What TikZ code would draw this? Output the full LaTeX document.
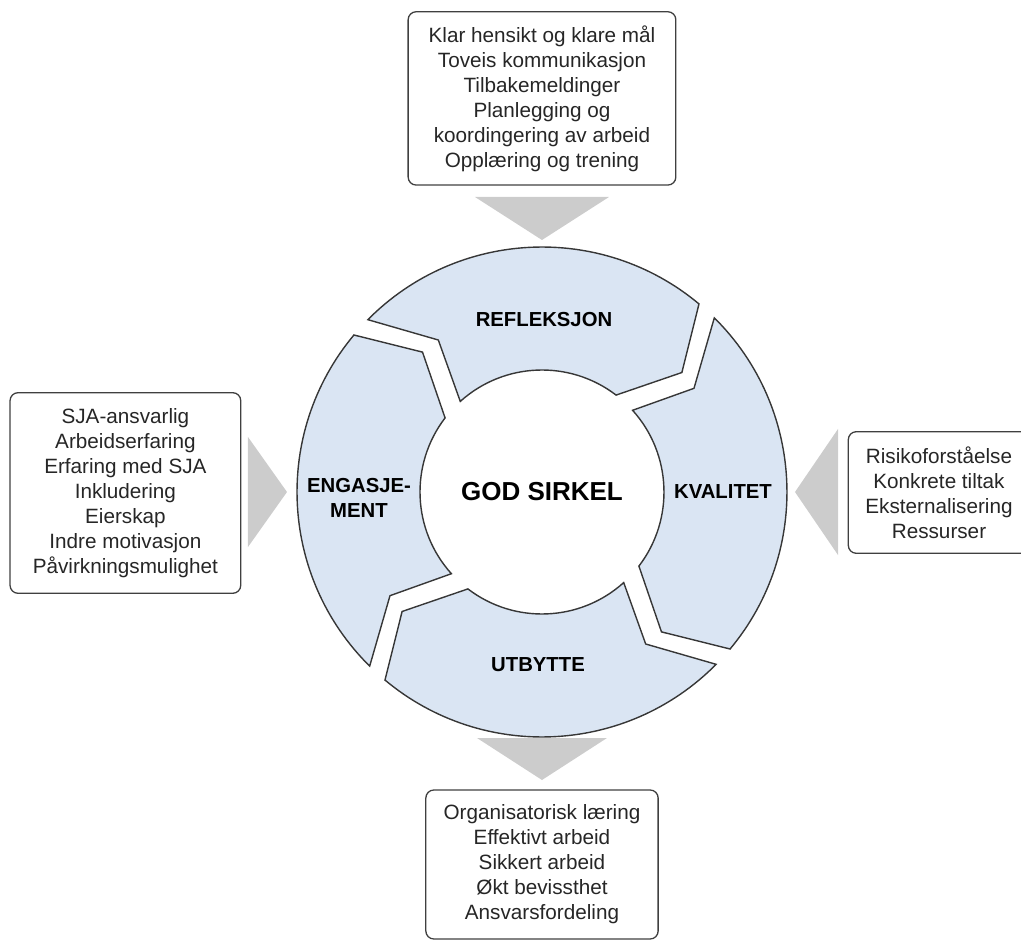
\documentclass[tikz,border=0pt]{standalone}
\usepackage{fontspec}
\setmainfont{Liberation Sans}

\definecolor{segblue}{RGB}{218,229,243}
\definecolor{segline}{RGB}{55,55,55}

\begin{document}
\begin{tikzpicture}[x=1pt, y=1pt,
    segment/.style={draw=segline, line width=1.4pt, fill=segblue, line join=miter},
    infobox/.style={draw=black!75, line width=1.3pt, rounded corners=8pt, align=center,
        inner sep=0pt, font=\fontsize{20.7}{25}\selectfont, text=black!85},
    seglabel/.style={font=\fontsize{20.3}{24.7}\selectfont\bfseries, align=center},
    chevron/.style={fill=black!20, draw=none}]
    % Frame, same size as the original
    \useasboundingbox (-542,-448) rectangle (479,492);
    \clip (-542,-448) rectangle (479,492);
    % Origin Point
    \coordinate (O) at (0,0);
    % Ring segments (clockwise, tip in front, notch behind)
    \foreach \c in {90,0,-90,180}
    {
        \draw[segment] ({\c-39.85}:245) arc[start angle={\c-39.85}, end angle={\c+45.3}, radius=245]
            -- ({\c+34.3}:184) -- ({\c+42.05}:122)
            arc[start angle={\c+42.05}, end angle={\c-37.4}, radius=122]
            -- ({\c-49.5}:184) -- cycle;
    }
    % Segment texts
    \node[seglabel] (refleksjon) at (2,172) {REFLEKSJON};
    \node[seglabel] (kvalitet) at (181,0) {KVALITET};
    \node[seglabel] (utbytte) at (-4,-173) {UTBYTTE};
    \node[seglabel] (engasjement) at (-183,-6) {ENGASJE-\\MENT};
    \node[font=\fontsize{26}{30}\selectfont\bfseries] (sirkel) at (O) {GOD SIRKEL};
    % Boxes
    \node[infobox, minimum width=267.7pt, minimum height=173.3pt] (maal) at (0,393.6)
        {Klar hensikt og klare mål\\Toveis kommunikasjon\\Tilbakemeldinger\\Planlegging og\\koordingering av arbeid\\Opplæring og trening};
    \node[infobox, minimum width=230.7pt, minimum height=200.6pt] (ansvar) at (-416.6,-1)
        {SJA-ansvarlig\\Arbeidserfaring\\Erfaring med SJA\\Inkludering\\Eierskap\\Indre motivasjon\\Påvirkningsmulighet};
    \node[infobox, minimum width=181.4pt, minimum height=121.6pt] (risiko) at (397,-0.5)
        {Risikoforståelse\\Konkrete tiltak\\Eksternalisering\\Ressurser};
    \node[infobox, minimum width=232.3pt, minimum height=149pt] (resultat) at (0,-372.5)
        {Organisatorisk læring\\Effektivt arbeid\\Sikkert arbeid\\Økt bevissthet\\Ansvarsfordeling};
    % Gray arrows
    \coordinate (pilN) at (0,252);
    \coordinate (pilS) at (0,-288);
    \coordinate (pilW) at (-255,0);
    \coordinate (pilE) at (253,0);
    \fill[chevron] (pilN) -- ++(-67,43) -- ++(134,0) -- cycle;
    \fill[chevron] (pilS) -- ++(-65,42) -- ++(130,0) -- cycle;
    \fill[chevron] (pilW) -- ++(-39,55) -- ++(0,-110) -- cycle;
    \fill[chevron] (pilE) -- ++(43,63) -- ++(0,-126) -- cycle;
\end{tikzpicture}
\end{document}
